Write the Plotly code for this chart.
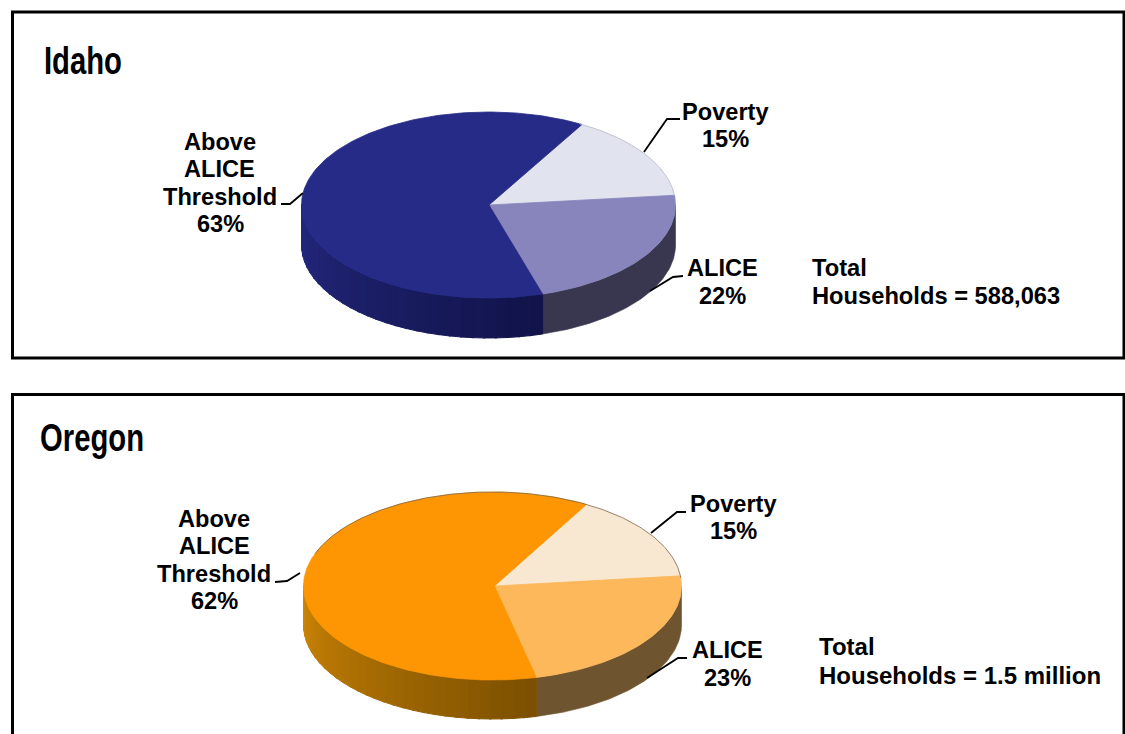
import math
import plotly.graph_objects as go

# ---- data ----
STATES = ["Idaho", "Oregon"]
SEGMENTS = ["Poverty", "ALICE", "Above ALICE Threshold"]
IDAHO_VALUES = [15, 22, 63]
OREGON_VALUES = [15, 23, 62]
TOTALS = ["Households = 588,063", "Households = 1.5 million"]

# ---- layout constants (pixels of the 1125x734 page) ----
W, H = 1125, 734
FONT = "Liberation Sans"
PIES = [
    dict(values=IDAHO_VALUES, cx=488.5, apex=489, cy=205, rx=187, ry=93, depth=40, start=30,
         top=["#e1e4ef", "#8785bb", "#252b87"], side_alice="#38374f",
         side_dark=(17, 19, 74), side_light=(36, 40, 126), edge="#b9bccb", rim=(29, 84)),
    dict(values=OREGON_VALUES, cx=492.5, apex=494.5, cy=586, rx=189, ry=94, depth=39, start=29.8,
         top=["#f8e8d2", "#fdb85c", "#fd9602"], side_alice="#6f5430",
         side_dark=(124, 80, 0), side_light=(205, 133, 6), edge="#7d6a50", rim=(-70, 85)),
]


def ell(p, deg, dy=0.0):
    t = math.radians(deg)
    return p["cx"] + p["rx"] * math.sin(t), p["cy"] - p["ry"] * math.cos(t) + dy


def wedge(p, a0, a1):
    n = max(2, int(abs(a1 - a0)))
    pts = [ell(p, a0 + (a1 - a0) * i / n) for i in range(n + 1)]
    xs = [p["apex"]] + [q[0] for q in pts] + [p["apex"]]
    ys = [p["cy"]] + [q[1] for q in pts] + [p["cy"]]
    return xs, ys


def strip(p, a0, a1):
    n = max(2, int(abs(a1 - a0)))
    up = [ell(p, a0 + (a1 - a0) * i / n) for i in range(n + 1)]
    lo = [ell(p, a1 - (a1 - a0) * i / n, p["depth"]) for i in range(n + 1)]
    pts = up + lo + up[:1]
    return [q[0] for q in pts], [q[1] for q in pts]


fig = go.Figure()


def poly(xs, ys, color, name, lw=0.6):
    fig.add_trace(go.Scatter(x=xs, y=ys, mode="lines", fill="toself", fillcolor=color,
                             line=dict(color=color, width=lw), name=name,
                             hoverinfo="name", showlegend=False))


for state, p in zip(STATES, PIES):
    angles = [p["start"]]
    for v in p["values"]:
        angles.append(angles[-1] + v * 3.6)
    # visible sides of the disc (front half only)
    a_start, a_end = max(angles[1], 90), angles[2]
    poly(*strip(p, a_start, a_end), p["side_alice"], f"{state} ALICE side")
    b0, b1 = angles[2], 270
    n = 30
    for i in range(n):
        a0 = b0 + (b1 - b0) * i / n
        a1 = b0 + (b1 - b0) * (i + 1) / n
        f = i / (n - 1)
        c = [round(d + (l - d) * f) for d, l in zip(p["side_dark"], p["side_light"])]
        poly(*strip(p, a0, a1 + 0.6), f"rgb({c[0]},{c[1]},{c[2]})", f"{state} Above side", lw=1.0)
    # top face
    for k, seg in enumerate(SEGMENTS):
        poly(*wedge(p, angles[k], angles[k + 1]), p["top"][k], f"{state} {seg}", lw=0.8)
    # thin rim
    rim = [ell(p, a) for a in range(p["rim"][0], p["rim"][1] + 1)]
    fig.add_trace(go.Scatter(x=[q[0] for q in rim], y=[q[1] for q in rim], mode="lines",
                             line=dict(color=p["edge"], width=0.8), hoverinfo="skip",
                             showlegend=False))

# leader lines
LEADERS = [
    [(644, 152), (667, 119), (680, 119)],
    [(303, 193), (290, 204), (281, 204)],
    [(650, 291), (673, 277), (683, 276)],
    [(651, 533), (677, 512), (686, 512)],
    [(300, 573), (287, 581), (275, 582)],
    [(647, 678), (678, 658), (687, 658)],
]
for seg in LEADERS:
    fig.add_trace(go.Scatter(x=[q[0] for q in seg], y=[q[1] for q in seg], mode="lines",
                             line=dict(color="#000000", width=1.8), hoverinfo="skip",
                             showlegend=False))


def txt(x, y, s, size=23.6, anchor="center", family=FONT):
    fig.add_annotation(x=x, y=y, xref="x", yref="y", text=f"<b>{s}</b>",
                       showarrow=False, xanchor=anchor, yanchor="middle",
                       font=dict(family=family, size=size, color="#000000"))


# titles (condensed by the script at the end of the page)
txt(42, 60, STATES[0], size=39, anchor="left")
txt(38, 437, STATES[1], size=39, anchor="left")

# Idaho labels
txt(725, 112, SEGMENTS[0])
txt(725, 139, f"{IDAHO_VALUES[0]}%")
txt(219.5, 142, "Above")
txt(219.5, 169, "ALICE")
txt(220, 197, "Threshold")
txt(220, 224, f"{IDAHO_VALUES[2]}%")
txt(722, 268, SEGMENTS[1])
txt(722, 296, f"{IDAHO_VALUES[1]}%")
txt(810, 268, "Total", size=23.7, anchor="left")
txt(810, 296, TOTALS[0], size=23.7, anchor="left")

# Oregon labels
txt(733, 504, SEGMENTS[0])
txt(733, 531, f"{OREGON_VALUES[0]}%")
txt(214, 519, "Above")
txt(214, 546, "ALICE")
txt(214, 574, "Threshold")
txt(214, 601, f"{OREGON_VALUES[2]}%")
txt(727, 650, SEGMENTS[1])
txt(727, 678, f"{OREGON_VALUES[1]}%")
txt(817, 646.5, "Total", size=24, anchor="left")
txt(817, 675.5, TOTALS[1], size=24, anchor="left")

# frames
for y0, y1 in [(12, 358), (394.5, 745)]:
    fig.add_shape(type="rect", xref="x", yref="y", x0=12.5, x1=1124, y0=y0, y1=y1,
                  line=dict(color="#000000", width=3), fillcolor="rgba(0,0,0,0)", layer="above")

fig.update_layout(
    width=W, height=H, autosize=False, margin=dict(l=0, r=0, t=0, b=0),
    paper_bgcolor="#ffffff", plot_bgcolor="#ffffff", showlegend=False,
    xaxis=dict(range=[0, W], visible=False, fixedrange=True),
    yaxis=dict(range=[H, 0], visible=False, fixedrange=True),
)
SQUEEZE = """
document.body.style.margin='0';
document.documentElement.style.overflow='hidden';
document.querySelectorAll('text.annotation-text').forEach(function(t){
  if(t.textContent==='Idaho'||t.textContent==='Oregon'){
    var b=t.getBBox();
    t.setAttribute('transform','translate('+b.x+',0) scale(0.75,1) translate('+(-b.x)+',0)');
  }
});
"""
fig.write_html("out.html", config={"displayModeBar": False}, post_script=SQUEEZE)
